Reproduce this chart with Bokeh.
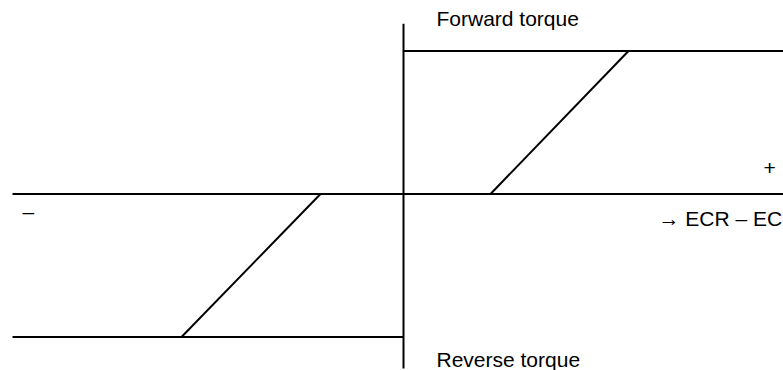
from bokeh.plotting import figure
from bokeh.models import Range1d, Label
from bokeh.embed import file_html
from bokeh.resources import INLINE

# Characteristic data (x: ECR - EC in units, y: torque, normalized)
fwd_slope_x = [0.87, 2.25]
fwd_slope_y = [0.0, 1.0]
fwd_limit_x = [0.0, 3.80]
fwd_limit_y = [1.0, 1.0]
rev_slope_x = [-0.83, -2.22]
rev_slope_y = [0.0, -1.0]
rev_limit_x = [-3.91, 0.0]
rev_limit_y = [-1.0, -1.0]
haxis_x = [-3.91, 3.80]
haxis_y = [0.0, 0.0]
vaxis_x = [0.0, 0.0]
vaxis_y = [-1.22, 1.19]

labels = ["Forward torque", "Reverse torque", "+", "\u2013", "\u2192 ECR \u2013 EC"]

W, H = 783, 370
p = figure(width=W, height=H, output_backend="svg", toolbar_location=None,
           x_range=Range1d(-4.03, 3.80), y_range=Range1d(-1.234, 1.353),
           min_border=0, outline_line_color=None)
p.axis.visible = False
p.grid.visible = False
p.background_fill_color = "white"

lw = 2
for xs, ys in [(haxis_x, haxis_y), (vaxis_x, vaxis_y), (fwd_limit_x, fwd_limit_y),
               (fwd_slope_x, fwd_slope_y), (rev_limit_x, rev_limit_y), (rev_slope_x, rev_slope_y)]:
    p.line(xs, ys, line_color="black", line_width=lw)

font = "Liberation Sans"
fs = "21px"
pos = [(0.33, 1.224), (0.33, -1.157), (3.60, 0.185), (-3.81, -0.122), (2.55, -0.171)]
for t, (x, y) in zip(labels, pos):
    p.add_layout(Label(x=x, y=y, text=t, text_font=font, text_font_size=fs,
                       text_color="black", text_baseline="alphabetic", text_align="left"))

open("out.html", "w").write(file_html(p, INLINE))
